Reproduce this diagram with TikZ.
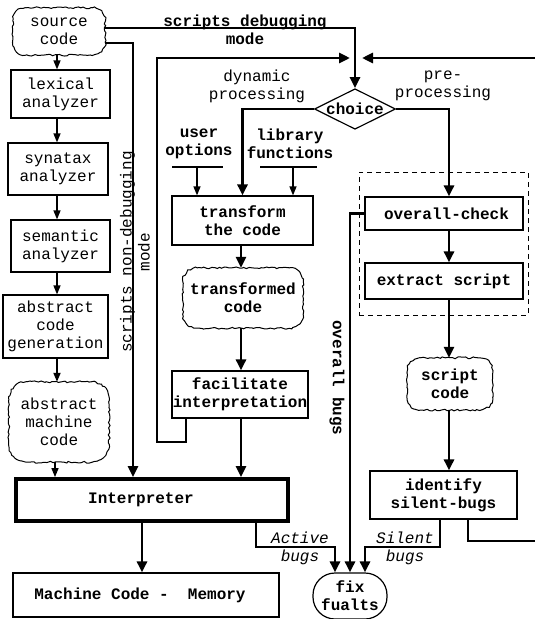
\documentclass[tikz,border=0pt]{standalone}
\usepackage{fontspec}
\setmainfont{Liberation Mono}
\usetikzlibrary{arrows.meta,shapes.geometric,decorations.pathmorphing}
\newcommand\fs{\fontsize{16pt}{18pt}\selectfont}
\newcommand\cloudof[2]{\draw[cloudline] ([xshift=#2]#1.north west) -- ([xshift=-#2]#1.north east)
  arc[start angle=90,end angle=0,radius=#2] -- ([yshift=#2]#1.south east)
  arc[start angle=0,end angle=-90,radius=#2] -- ([xshift=#2]#1.south west)
  arc[start angle=-90,end angle=-180,radius=#2] -- ([yshift=-#2]#1.north west)
  arc[start angle=180,end angle=90,radius=#2] -- cycle;}
\begin{document}
\begin{tikzpicture}[x=1pt,y=-1pt,
  every node/.style={font=\fs},
  bf/.style={font=\fs\bfseries},
  box/.style={draw, line width=1.2pt, align=center, inner sep=0pt},
  cloudy/.style={align=center, inner sep=0pt, rectangle},
  cloudline/.style={line width=1pt, decorate, decoration={random steps, segment length=2.5pt, amplitude=0.9pt}},
  thk/.style={line width=2.8pt, -{Triangle[length=11pt,width=10pt]}},
  thn/.style={line width=1.3pt, -{Triangle[length=9pt,width=7pt]}},
  thnl/.style={line width=1.2pt},
  lbl/.style={align=center, inner sep=0pt}]
\pgfmathsetseed{7}
\useasboundingbox (0,0) rectangle (535,619);
% coordinates
\coordinate (lc) at (57,0);
\coordinate (lc2) at (55,0);
\coordinate (nd) at (133,43);
\coordinate (dmy) at (0,28);
\coordinate (j) at (355,58);
\coordinate (lp1) at (186,442);
\coordinate (lp2) at (157,442);
\coordinate (lp3) at (157,58);
\coordinate (rl) at (468,541);
\coordinate (rr1) at (545,541);
\coordinate (rr2) at (545,58);
\coordinate (rx) at (449,0);
\coordinate (cx) at (241,0);
\coordinate (mx) at (142,0);
\coordinate (ab1) at (256,547);
\coordinate (ab2) at (335,547);
\coordinate (sb1) at (440,547);
\coordinate (sb2) at (365,547);
\coordinate (uol) at (172,167);
\coordinate (uor) at (223,167);
\coordinate (uoa) at (197,167);
\coordinate (lfl) at (260,167);
\coordinate (lfr) at (317,167);
\coordinate (lfa) at (293,167);
% left column
\node[cloudy, minimum width=92pt, minimum height=47pt] (src) at (59,31.5) {source\\code};
\cloudof{src}{13pt}
\node[box, minimum width=99pt, minimum height=48pt] (lex) at (60.5,94) {lexical\\analyzer};
\node[box, minimum width=100pt, minimum height=52pt] (syn) at (58,169) {synatax\\analyzer};
\node[box, minimum width=99pt, minimum height=52pt] (sem) at (60.5,246) {semantic\\analyzer};
\node[box, minimum width=105pt, minimum height=63pt] (acg) at (55.5,326.5) {abstract\\code\\generation};
\node[cloudy, minimum width=100pt, minimum height=80pt] (amc) at (59,422) {abstract\\machine\\code};
\cloudof{amc}{18pt}
\node[box, bf, line width=3.8pt, minimum width=272pt, minimum height=42pt] (int) at (152,500) {Interpreter\hspace*{22pt}};
\node[box, bf, minimum width=266pt, minimum height=44pt] (mcm) at (146,595) {Machine Code -\ \ Memory\hspace*{12pt}};
% middle
\node[draw, bf, diamond, aspect=2, inner sep=0pt, line width=1.2pt] (ch) at (355,109) {choice};
\node[lbl] (dyn) at (257,86) {dynamic\\processing};
\node[lbl] (pre) at (443,86) {pre-\\processing};
\node[lbl, bf] (sdm) at (245,30) {scripts debugging\\mode};
\node[lbl, rotate=90] (snd) at (135,252) {scripts non-debugging\\mode};
\node[lbl, bf] (uo) at (199,144) {user\\options};
\node[lbl, bf] (lf) at (290,144) {library\\functions};
\node[box, bf, minimum width=141pt, minimum height=49pt] (tr) at (242.5,220.5) {transform\\the code};
\node[cloudy, bf, minimum width=120pt, minimum height=60pt] (tc) at (243,298) {transformed\\code};
\cloudof{tc}{14pt}
\node[box, bf, minimum width=136pt, minimum height=47pt] (fi) at (240,394.5) {facilitate\\interpretation};
% right
\node[draw, dashed, dash pattern=on 5pt off 4pt, line width=1pt, minimum width=169pt, minimum height=143pt, inner sep=0pt] (grp) at (443.5,243.5) {};
\node[box, bf, minimum width=158pt, minimum height=33pt] (oc) at (444,213.5) {\hspace*{5pt}overall-check};
\node[box, bf, minimum width=158pt, minimum height=36pt] (ex) at (444,281) {extract script};
\node[cloudy, bf, minimum width=85pt, minimum height=52pt] (sc) at (450,384) {script\\code};
\cloudof{sc}{13pt}
\node[box, bf, minimum width=147pt, minimum height=48pt] (id) at (443.5,495) {identify\\silent-bugs};
\node[draw, bf, line width=1.2pt, rounded corners=22pt, align=center, inner sep=0pt, minimum width=74pt, minimum height=46pt] (ff) at (350,596) {fix\\fualts};
\node[lbl, bf, rotate=-90] (ob) at (337,378) {overall bugs};
\node[lbl, font=\fs\itshape] (act) at (300,548) {Active\\bugs};
\node[lbl, font=\fs\itshape] (sil) at (405,548) {Silent\\bugs};
% left column arrows
\draw[thn] (lc |- src.south) -- (lc |- lex.north);
\draw[thn] (lc |- lex.south) -- (lc |- syn.north);
\draw[thn] (lc |- syn.south) -- (lc |- sem.north);
\draw[thn] (lc |- sem.south) -- (lc |- acg.north);
\draw[thn, line width=1.8pt] (lc |- acg.south) -- (lc |- amc.north);
\draw[thn] (lc2 |- amc.south) -- (lc2 |- int.north);
% source code branches
\draw[thk] ([yshift=-11.5pt]src.east) -- (nd) -- (nd |- int.north);
\draw[thk] ([yshift=3.5pt]src.east) -- (ch.north |- dmy) -- (ch.north);
% loops to choice
\draw[thk, shorten >=5pt] (fi.south -| lp1) -- (lp1) -- (lp2) -- (lp3) -- (j);
\draw[thk, shorten >=7pt] (id.south -| rl) -- (rl) -- (rr1) -- (rr2) -- (j);
% choice branches
\draw[thk] (ch.west) -| (tr.north);
\draw[thk] (ch.east) -| (rx |- oc.north);
% inputs to transform
\draw[thnl] (uol) -- (uor);
\draw[thnl] (lfl) -- (lfr);
\draw[thn] (uoa) -- (uoa |- tr.north);
\draw[thn] (lfa) -- (lfa |- tr.north);
% middle chain
\draw[thk] (cx |- tr.south) -- (cx |- tc.north);
\draw[thk] (cx |- tc.south) -- (cx |- fi.north);
\draw[thk] (cx |- fi.south) -- (cx |- int.north);
\draw[thk] (mx |- int.south) -- (mx |- mcm.north);
% right chain
\draw[thk] (rx |- oc.south) -- (rx |- ex.north);
\draw[thk] (rx |- ex.south) -- (rx |- sc.north);
\draw[thk] (rx |- sc.south) -- (rx |- id.north);
% bugs
\draw[thk] (ab1 |- int.south) -- (ab1) -- (ab2) -- (ab2 |- ff.north);
\draw[thk] (oc.west) -| (ff.north);
\draw[thk] (sb1 |- id.south) -- (sb1) -- (sb2) -- (sb2 |- ff.north);
\end{tikzpicture}
\end{document}
